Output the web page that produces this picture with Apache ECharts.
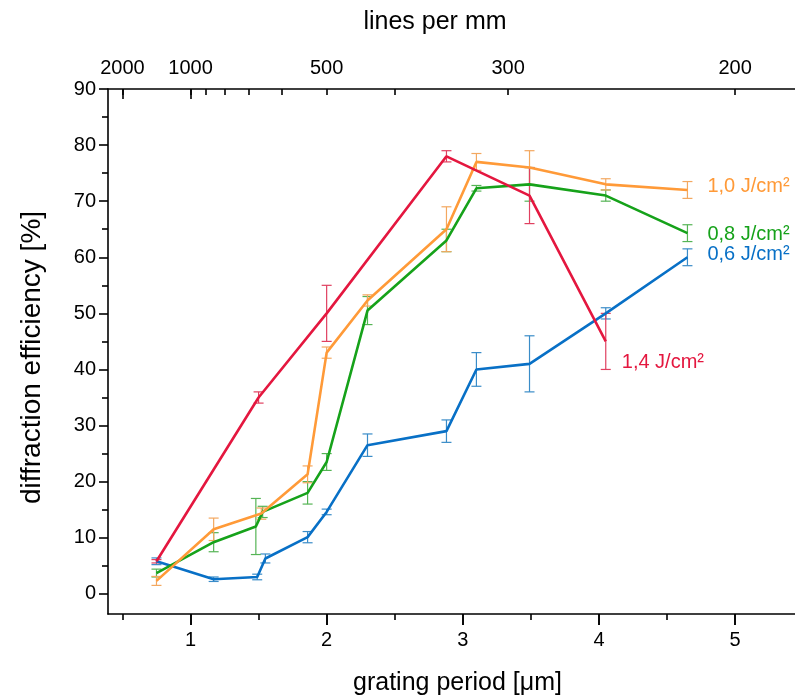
<!DOCTYPE html>
<html>
<head>
<meta charset="utf-8">
<script src="https://cdn.jsdelivr.net/npm/echarts@6/dist/echarts.min.js"></script>
<style>html,body{margin:0;padding:0;background:#fff}#c{width:795px;height:698px}</style>
</head>
<body>
<div id="c"></div>
<script>
// ---- data ----
const names = ['1,4 J/cm²', '1,0 J/cm²', '0,8 J/cm²', '0,6 J/cm²'];

const x14 = [0.75, 1.50, 2.00, 2.88, 3.49, 4.05];
const y14 = [5.8, 35.0, 50.0, 78.0, 71.0, 45.0];
const e14 = [0.3, 1.0, 5.0, 1.0, 5.0, 5.0];

const x10 = [0.75, 1.17, 1.52, 1.86, 2.00, 2.30, 2.88, 3.10, 3.49, 4.05, 4.65];
const y10 = [2.3, 11.5, 14.3, 21.3, 43.0, 52.3, 65.0, 77.0, 76.0, 73.0, 72.0];
const e10 = [0.8, 2.0, 1.0, 1.5, 1.0, 1.0, 4.0, 1.5, 3.0, 1.0, 1.5];

const x08 = [0.75, 1.17, 1.48, 1.53, 1.86, 2.00, 2.30, 2.88, 3.10, 3.49, 4.05, 4.65];
const y08 = [3.7, 9.2, 12.0, 14.6, 18.0, 23.5, 50.5, 63.0, 72.3, 73.0, 71.0, 64.3];
const e08 = [0.7, 1.7, 5.0, 1.0, 2.0, 1.5, 2.5, 2.0, 0.5, 3.0, 1.0, 1.5];

const x06 = [0.75, 1.17, 1.49, 1.55, 1.86, 2.00, 2.30, 2.88, 3.10, 3.49, 4.05, 4.65];
const y06 = [5.8, 2.6, 3.0, 6.3, 10.1, 14.6, 26.5, 29.0, 40.0, 41.0, 50.0, 60.0];
const e06 = [0.6, 0.4, 0.5, 0.8, 1.0, 0.5, 2.0, 2.0, 3.0, 5.0, 1.0, 1.5];

const yMajor = [0, 10, 20, 30, 40, 50, 60, 70, 80, 90];
const yMinor = [5, 15, 25, 35, 45, 55, 65, 75, 85];
const xMajor = [1, 2, 3, 4, 5];
const xMinor = [0.5, 1.5, 2.5, 3.5, 4.5];
const topLabels = [2000, 1000, 500, 300, 200];        // lines per mm
const topMinor = [900, 800, 700, 600, 400];          // lines per mm
const topLong = [2000, 1000];

// ---- styling ----
const FONT = "'Liberation Sans', Arial, sans-serif";
const colors = ['#e4173f', '#ff9a38', '#16a21a', '#0870c6'];
const errColors = ['#e04060', '#f3a860', '#55b455', '#3a8cc8'];
const labelOffsets = [[11, 21], [15, -3], [15, 1], [15, -3]];
const XMIN = 0.394, XMAX = 5.44, YMIN = -3.6, YMAX = 90;

const toPeriod = l => 1000 / l;

function lineSeries(i, xs, ys) {
  return {
    type: 'line', name: names[i], xAxisIndex: 0, yAxisIndex: 0,
    data: xs.map((x, k) => [x, ys[k]]),
    symbol: 'none', smooth: false, z: 3 + (i === 0 ? 1 : 0),
    lineStyle: { color: colors[i], width: 2.6 },
    itemStyle: { color: colors[i] },
    endLabel: {
      show: true, formatter: '{a}', color: colors[i],
      fontFamily: FONT, fontSize: 20, distance: 5, offset: labelOffsets[i]
    },
    animation: false
  };
}
function errSeries(i, xs, ys, es) {
  return {
    type: 'custom', xAxisIndex: 0, yAxisIndex: 0, silent: true, z: 2,
    data: xs.map((x, k) => [x, ys[k] - es[k], ys[k] + es[k]]),
    renderItem: (params, api) => {
      const lo = api.coord([api.value(0), api.value(1)]);
      const hi = api.coord([api.value(0), api.value(2)]);
      const w = 5;
      const st = { stroke: errColors[i], lineWidth: 1.2 };
      return {
        type: 'group', children: [
          { type: 'line', shape: { x1: lo[0], y1: lo[1], x2: hi[0], y2: hi[1] }, style: st },
          { type: 'line', shape: { x1: lo[0] - w, y1: lo[1], x2: lo[0] + w, y2: lo[1] }, style: st },
          { type: 'line', shape: { x1: hi[0] - w, y1: hi[1], x2: hi[0] + w, y2: hi[1] }, style: st }
        ]
      };
    },
    animation: false
  };
}

const axisLineStyle = { color: '#000', width: 1.6 };
const tickLine = { color: '#000', width: 1.6 };
const labelStyle = { color: '#000', fontFamily: FONT, fontSize: 20 };

function tickAxis(pos, values, len, inside) {
  return {
    type: 'value', position: pos, min: XMIN, max: XMAX,
    axisLine: { show: false, onZero: false },
    axisTick: { show: true, inside: inside, length: len, customValues: values, lineStyle: tickLine },
    axisLabel: { show: false }, splitLine: { show: false }
  };
}

const option = {
  backgroundColor: '#fff',
  animation: false,
  grid: { left: 108, right: 0, top: 89, bottom: 84, containLabel: false, outerBoundsMode: 'none' },
  xAxis: [
    { // bottom, labels
      type: 'value', position: 'bottom', min: XMIN, max: XMAX,
      name: 'grating period [μm]', nameLocation: 'middle', nameGap: 57,
      nameTextStyle: { color: '#000', fontFamily: FONT, fontSize: 25, padding: [0, 0, 0, 12] },
      axisLine: { show: true, onZero: false, lineStyle: axisLineStyle },
      axisTick: { show: true, inside: false, length: 11, customValues: xMajor, lineStyle: tickLine },
      axisLabel: { show: true, customValues: xMajor, margin: 16, ...labelStyle, formatter: v => String(v) },
      splitLine: { show: false }
    },
    { // top, labels + short ticks
      type: 'value', position: 'top', min: XMIN, max: XMAX,
      name: 'lines per mm', nameLocation: 'middle', nameGap: 54,
      nameTextStyle: { color: '#000', fontFamily: FONT, fontSize: 25, padding: [0, 33, 0, 0] },
      axisLine: { show: true, onZero: false, lineStyle: axisLineStyle },
      axisTick: { show: true, inside: true, length: 6, customValues: topLabels.concat(topMinor).map(toPeriod), lineStyle: tickLine },
      axisLabel: { show: true, customValues: topLabels.map(toPeriod), margin: 11, ...labelStyle,
        formatter: v => String(Math.round(1000 / v)) },
      splitLine: { show: false }
    },
    tickAxis('top', topLong.map(toPeriod), 10, true),
    tickAxis('bottom', xMinor, 6, false),
    tickAxis('bottom', xMajor, 11, false)
  ],
  yAxis: [
    {
      type: 'value', position: 'left', min: YMIN, max: YMAX,
      name: 'diffraction efficiency [%]', nameLocation: 'middle', nameGap: 62, nameRotate: 90,
      nameTextStyle: { color: '#000', fontFamily: FONT, fontSize: 28, padding: [0, 12, 0, 0] },
      axisLine: { show: true, onZero: false, lineStyle: axisLineStyle },
      axisTick: { show: true, inside: false, length: 9, customValues: yMajor, lineStyle: tickLine },
      axisLabel: { show: true, customValues: yMajor, margin: 12, ...labelStyle, formatter: v => String(v) },
      splitLine: { show: false }
    },
    {
      type: 'value', position: 'left', min: YMIN, max: YMAX,
      axisLine: { show: false, onZero: false },
      axisTick: { show: true, inside: false, length: 6, customValues: yMinor, lineStyle: tickLine },
      axisLabel: { show: false }, splitLine: { show: false }
    }
  ],
  series: [
    errSeries(3, x06, y06, e06),
    errSeries(2, x08, y08, e08),
    errSeries(1, x10, y10, e10),
    errSeries(0, x14, y14, e14),
    lineSeries(3, x06, y06),
    lineSeries(2, x08, y08),
    lineSeries(1, x10, y10),
    lineSeries(0, x14, y14)
  ]
};

const chart = echarts.init(document.getElementById('c'), null, { renderer: 'canvas' });
chart.setOption(option);
</script>
</body>
</html>
